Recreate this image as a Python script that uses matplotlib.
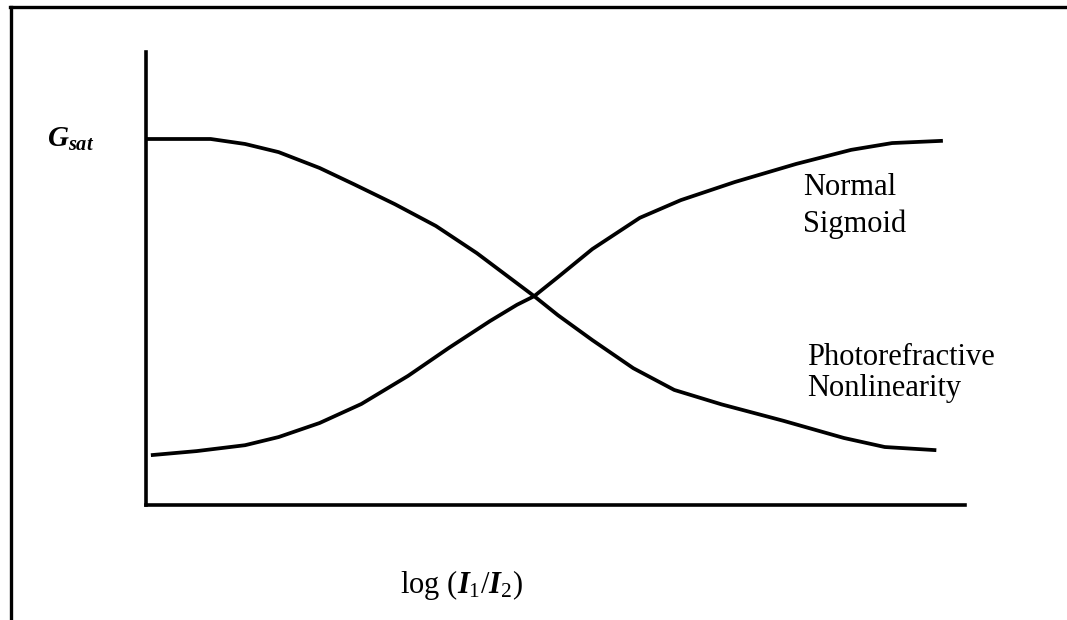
import numpy as np
import matplotlib.pyplot as plt
from matplotlib.lines import Line2D

# Curve data (x: log(I1/I2) in arbitrary units, y: gain in arbitrary units)
photo_x = [0.0, 0.79, 1.21, 1.62, 2.12, 2.54, 3.04, 3.54, 4.04, 4.46,
           4.74, 5.03, 5.45, 5.95, 6.45, 7.03, 7.78, 8.52, 9.02, 9.65]
photo_y = [0.808, 0.808, 0.797, 0.779, 0.744, 0.708, 0.664, 0.616, 0.556, 0.499,
           0.461, 0.419, 0.364, 0.302, 0.254, 0.222, 0.186, 0.148, 0.128, 0.121]

sigmoid_x = [0.06, 0.62, 1.21, 1.62, 2.12, 2.63, 3.20, 3.70, 4.20, 4.53,
             4.74, 5.03, 5.45, 6.03, 6.53, 7.19, 7.94, 8.61, 9.11, 9.73]
sigmoid_y = [0.110, 0.119, 0.132, 0.150, 0.181, 0.223, 0.285, 0.347, 0.406, 0.442,
             0.461, 0.503, 0.565, 0.634, 0.673, 0.713, 0.753, 0.784, 0.799, 0.804]

plt.rcParams['font.family'] = ['Liberation Serif', 'DejaVu Serif']
plt.rcParams['mathtext.fontset'] = 'custom'
plt.rcParams['mathtext.it'] = 'Liberation Serif:italic:bold'
plt.rcParams['mathtext.rm'] = 'Liberation Serif'

fig = plt.figure(figsize=(10.67, 6.2), dpi=100)
ax = fig.add_axes([0.1368, 0.1855, 0.7676, 0.7306])

ax.plot(sigmoid_x, sigmoid_y, color='black', lw=2.7, clip_on=False,
        solid_capstyle='butt', solid_joinstyle='round')
ax.plot(photo_x, photo_y, color='black', lw=2.7, clip_on=False,
        solid_capstyle='butt', solid_joinstyle='round')

ax.set_xlim(0, 10)
ax.set_ylim(0, 1)
ax.set_xticks([])
ax.set_yticks([])
for s in ['top', 'right']:
    ax.spines[s].set_visible(False)
for s in ['left', 'bottom']:
    ax.spines[s].set_linewidth(2.6)

# outer frame (top and left only)
fig.add_artist(Line2D([0.0094, 1.0], [0.9887, 0.9887], color='black', lw=2.4))
fig.add_artist(Line2D([0.0103, 0.0103], [0.0, 0.9887], color='black', lw=2.4))

# labels
fig.text(0.044, 0.763, r'$G_{sat}$', fontsize=21, va='baseline')
fig.text(0.7526, 0.6855, 'Normal', fontsize=22, va='baseline')
fig.text(0.7526, 0.6258, 'Sigmoid', fontsize=22, va='baseline')
fig.text(0.756, 0.4113, 'Photorefractive', fontsize=22, va='baseline')
fig.text(0.756, 0.3613, 'Nonlinearity', fontsize=22, va='baseline')
fig.text(0.375, 0.0435, r'$\mathrm{log}\ (I_1/I_2)$', fontsize=22, va='baseline')

fig.savefig('out.png', dpi=100)
